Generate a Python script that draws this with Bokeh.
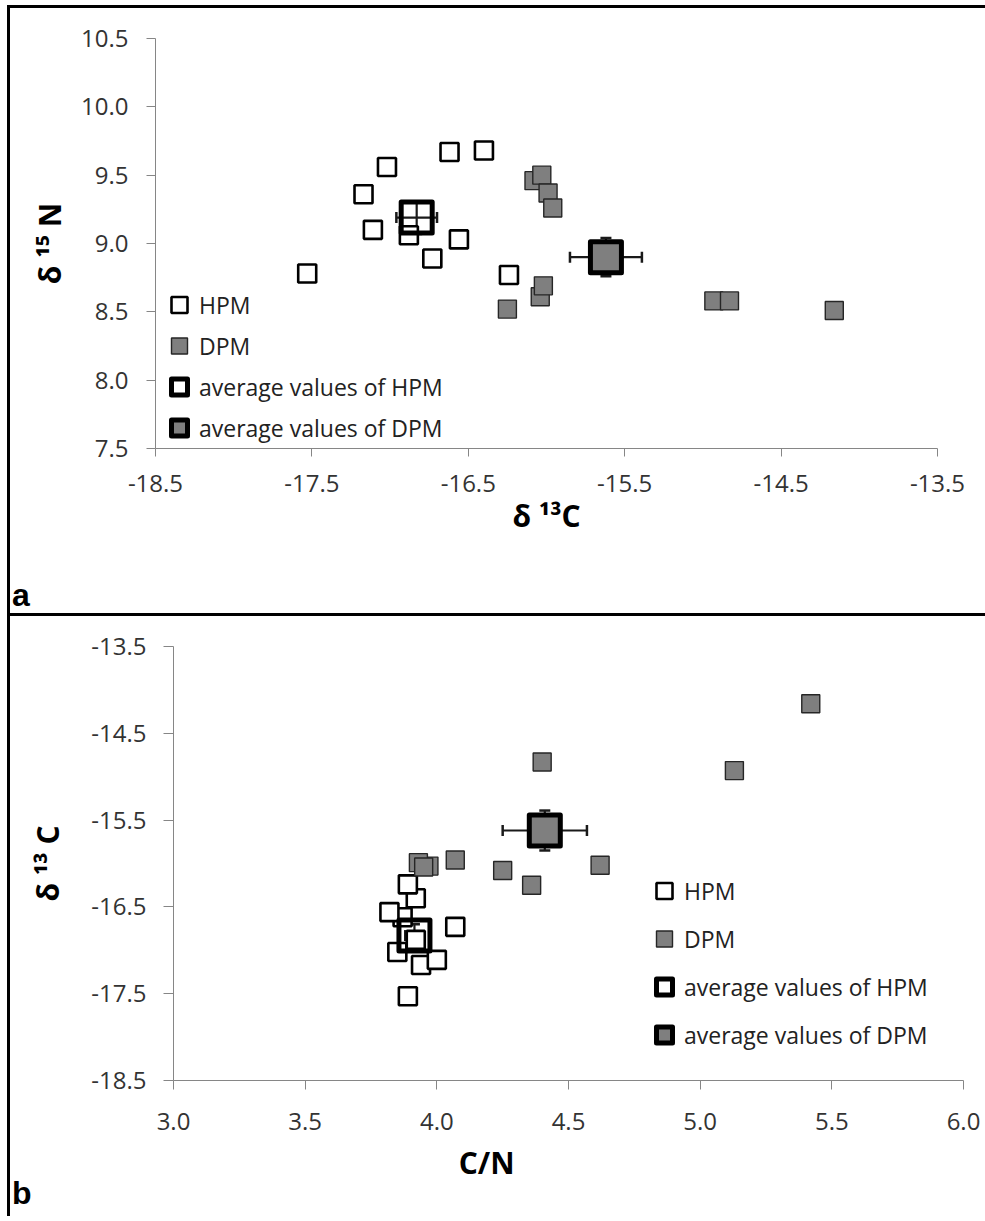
from bokeh.plotting import figure
from bokeh.models import (Range1d, FixedTicker, PrintfTickFormatter, Legend, LegendItem,
                          ColumnDataSource, Whisker, TeeHead, Div)
from bokeh.embed import file_html
from bokeh.resources import INLINE

# ---------------- data ----------------
hpm_d13c = [-17.53, -17.17, -17.02, -17.11, -16.88, -16.62, -16.40, -16.56, -16.73, -16.24]
hpm_d15n = [8.78, 9.36, 9.56, 9.10, 9.06, 9.67, 9.68, 9.03, 8.89, 8.77]
hpm_cn = [3.89, 3.94, 3.85, 4.00, 3.92, 3.87, 3.92, 3.82, 4.07, 3.89]

dpm_d13c = [-16.08, -16.03, -15.99, -15.96, -16.25, -16.04, -16.02, -14.93, -14.83, -14.16]
dpm_d15n = [9.46, 9.50, 9.37, 9.26, 8.52, 8.61, 8.69, 8.58, 8.58, 8.51]
dpm_cn = [4.25, 3.97, 3.93, 4.07, 4.36, 3.95, 4.62, 5.13, 4.40, 5.42]

# averages: [HPM, DPM]
avg_d13c = [-16.83, -15.62]
avg_d15n = [9.19, 8.90]
avg_cn = [3.915, 4.41]
err_d13c = [0.13, 0.23]
err_d15n = [0.12, 0.14]
err_cn = [0.035, 0.16]

series_labels = ["HPM", "DPM", "average values of HPM", "average values of DPM"]

a_xticks = [-18.5, -17.5, -16.5, -15.5, -14.5, -13.5]
a_yticks = [7.5, 8.0, 8.5, 9.0, 9.5, 10.0, 10.5]
b_xticks = [3.0, 3.5, 4.0, 4.5, 5.0, 5.5, 6.0]
b_yticks = [-18.5, -17.5, -16.5, -15.5, -14.5, -13.5]

TICK_FONT = "Open Sans"
GRAY = "#7f7f7f"
AXIS_GRAY = "#868686"
NBSP = "\u00a0"


def style_axis(ax, ticks, tick_out, label_standoff, title, title_standoff):
    ax.ticker = FixedTicker(ticks=ticks)
    ax.formatter = PrintfTickFormatter(format="%.1f")
    ax.axis_line_color = AXIS_GRAY
    ax.major_tick_line_color = AXIS_GRAY
    ax.major_tick_in = 0
    ax.major_tick_out = tick_out
    ax.minor_tick_line_color = None
    ax.major_label_text_font = TICK_FONT
    ax.major_label_text_font_size = "24px"
    ax.major_label_text_color = "#333333"
    ax.major_label_standoff = label_standoff
    ax.axis_label = title
    ax.axis_label_text_font = TICK_FONT
    ax.axis_label_text_font_style = "bold"
    ax.axis_label_text_font_size = "30px"
    ax.axis_label_text_color = "black"
    ax.axis_label_standoff = title_standoff


def make_panel(xs_h, ys_h, xs_d, ys_d, ax_, ay_, ex_, ey_, xr, yr, fw, fh, borders,
               leg_loc, leg_spacing, css):
    p = figure(frame_width=fw, frame_height=fh, x_range=Range1d(*xr), y_range=Range1d(*yr),
               output_backend="svg", toolbar_location=None,
               min_border_left=borders[0], min_border_right=borders[1],
               min_border_top=borders[2], min_border_bottom=borders[3],
               styles=css)
    p.xgrid.visible = False
    p.ygrid.visible = False
    p.outline_line_color = None
    p.background_fill_color = "white"
    p.border_fill_color = "white"

    src = ColumnDataSource(dict(
        x=ax_, y=ay_,
        xl=[a - e for a, e in zip(ax_, ex_)], xu=[a + e for a, e in zip(ax_, ex_)],
        yl=[a - e for a, e in zip(ay_, ey_)], yu=[a + e for a, e in zip(ay_, ey_)],
    ))
    for dim, base, lo, up in (("width", "y", "xl", "xu"), ("height", "x", "yl", "yu")):
        w = Whisker(source=src, base=base, lower=lo, upper=up, dimension=dim,
                    line_color="#1a1a1a", line_width=2.2,
                    upper_head=TeeHead(size=11, line_width=2.5, line_color="#1a1a1a"),
                    lower_head=TeeHead(size=11, line_width=2.5, line_color="#1a1a1a"))
        p.add_layout(w)

    r1 = p.scatter(xs_h, ys_h, marker="square", size=18, fill_color="white",
                   line_color="black", line_width=2.6)
    r2 = p.scatter(xs_d, ys_d, marker="square", size=18, fill_color=GRAY,
                   line_color="#262626", line_width=1.4)
    r3 = p.scatter([ax_[0]], [ay_[0]], marker="square", size=31, fill_alpha=0,
                   line_color="black", line_width=5, line_join="round")
    r4 = p.scatter([ax_[1]], [ay_[1]], marker="square", size=31, fill_color=GRAY,
                   line_color="black", line_width=5, line_join="round")

    legend = Legend(items=[LegendItem(label=lab, renderers=[r])
                           for lab, r in zip(series_labels, [r1, r2, r3, r4])],
                    location=leg_loc, glyph_width=40, glyph_height=41, spacing=leg_spacing,
                    padding=0, margin=0, label_standoff=-13, border_line_color=None,
                    background_fill_alpha=0, label_text_font=TICK_FONT,
                    label_text_font_size="23px", label_text_color="#222222")
    p.add_layout(legend)
    return p


pa = make_panel(hpm_d13c, hpm_d15n, dpm_d13c, dpm_d15n, avg_d13c, avg_d15n, err_d13c, err_d15n,
                (-18.5, -13.5), (7.5, 10.5), 782, 410, (145, 48, 30, 165),
                (4, 0), 0,
                {"position": "absolute", "left": "7px", "top": "5px",
                 "border-top": "3px solid black", "border-left": "3px solid black"})
style_axis(pa.xaxis[0], a_xticks, 8, 18, "δ ¹³C", 0)
style_axis(pa.yaxis[0], a_yticks, 9, 18, "δ ¹⁵ N", 8)

pb = make_panel(hpm_cn, hpm_d13c, dpm_cn, dpm_d13c, avg_cn, avg_d13c, err_cn, err_d13c,
                (3.0, 6.0), (-18.5, -13.5), 790, 434, (163, 22, 30, 136),
                (471, 25), 7,
                {"position": "absolute", "left": "7px", "top": "613px",
                 "border-top": "3px solid black", "border-left": "3px solid black"})
style_axis(pb.xaxis[0], b_xticks, 9, 23, "C/N" + NBSP * 21, 9)
style_axis(pb.yaxis[0], b_yticks, 10, 17, "δ ¹³ C", 20)

letter_css = {"position": "absolute", "font-family": "'Liberation Sans', Arial, sans-serif",
              "font-weight": "bold", "font-size": "32px", "color": "black", "line-height": "normal"}
la = Div(text="a", styles=dict(letter_css, left="7px", top="572px"))
lb = Div(text="b", styles=dict(letter_css, left="7px", top="1170px"))

open("out.html", "w").write(file_html([pa, pb, la, lb], INLINE))
